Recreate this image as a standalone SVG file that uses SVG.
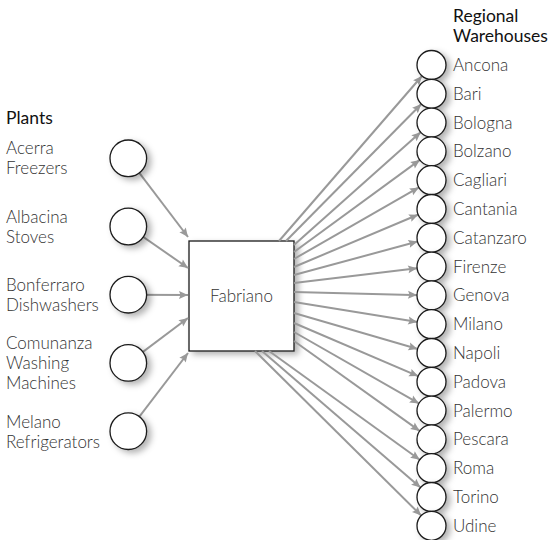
<svg xmlns="http://www.w3.org/2000/svg" width="553" height="540" viewBox="0 0 553 540">
  <defs>
    <filter id="shadow" x="-50%" y="-50%" width="200%" height="200%">
      <feDropShadow dx="4" dy="3" stdDeviation="3" flood-color="#000" flood-opacity="0.3"/>
    </filter>
    <marker id="tip" markerUnits="userSpaceOnUse" markerWidth="12" markerHeight="12" refX="9" refY="0" orient="auto" overflow="visible">
      <path d="M0,-4 L9,0 L0,4 L1.5,0 z" fill="#999"/>
    </marker>
    <marker id="tipR" markerUnits="userSpaceOnUse" markerWidth="12" markerHeight="12" refX="23.5" refY="0" orient="auto" overflow="visible">
      <path d="M0,-4 L9,0 L0,4 L1.5,0 z" fill="#999"/>
    </marker>
  </defs>
  <style>
    text { font-family: "Lato", "Liberation Sans", sans-serif; font-size: 17px; font-weight: 300; fill: #333; }
    .head { font-size: 17.5px; font-weight: 400; fill: #111; }
    .node { fill: #fff; stroke: #1a1a1a; stroke-width: 1.3; filter: url(#shadow); }
    .edge { stroke: #999; stroke-width: 2; fill: none; }
    .in { marker-end: url(#tip); }
    .out { marker-end: url(#tipR); }
  </style>

  <rect width="553" height="540" fill="#fff"/>

  <!-- column headings -->
  <text class="head" x="6" y="124">Plants</text>
  <text class="head" x="453" y="22">Regional</text>
  <text class="head" x="453" y="41.5">Warehouses</text>

  <!-- central plant -->
  <g id="fabriano">
    <rect class="node" x="189" y="241" width="105" height="110"/>
    <text x="241.5" y="302" text-anchor="middle">Fabriano</text>
  </g>

  <!-- connectors -->
  <g id="connectors">
    <line class="edge in" x1="128.3" y1="158.3" x2="188" y2="237"/>
    <line class="edge in" x1="128.3" y1="226.5" x2="188" y2="268"/>
    <line class="edge in" x1="128.3" y1="294.7" x2="188" y2="295"/>
    <line class="edge in" x1="128.3" y1="362.9" x2="188" y2="318"/>
    <line class="edge in" x1="128.3" y1="431.2" x2="188" y2="353"/>

    <line class="edge out" x1="279" y1="241" x2="431.5" y2="65"/>
    <line class="edge out" x1="286" y1="241" x2="431.5" y2="93.8"/>
    <line class="edge out" x1="294" y1="245" x2="431.5" y2="122.6"/>
    <line class="edge out" x1="294" y1="252" x2="431.5" y2="151.4"/>
    <line class="edge out" x1="294" y1="259" x2="431.5" y2="180.2"/>
    <line class="edge out" x1="294" y1="267" x2="431.5" y2="209"/>
    <line class="edge out" x1="294" y1="275" x2="431.5" y2="237.8"/>
    <line class="edge out" x1="294" y1="283" x2="431.5" y2="266.6"/>
    <line class="edge out" x1="294" y1="292" x2="431.5" y2="295.4"/>
    <line class="edge out" x1="294" y1="302" x2="431.5" y2="324.2"/>
    <line class="edge out" x1="294" y1="313" x2="431.5" y2="353"/>
    <line class="edge out" x1="294" y1="323" x2="431.5" y2="381.8"/>
    <line class="edge out" x1="294" y1="332" x2="431.5" y2="410.6"/>
    <line class="edge out" x1="294" y1="341" x2="431.5" y2="439.4"/>
    <line class="edge out" x1="269" y1="351" x2="431.5" y2="468.2"/>
    <line class="edge out" x1="262" y1="351" x2="431.5" y2="497"/>
    <line class="edge out" x1="255" y1="351" x2="431.5" y2="525.8"/>
  </g>

  <!-- plants -->
  <g id="acerra">
    <circle class="node" cx="128.3" cy="158.3" r="18.3"/>
    <text x="6" y="154.3">Acerra</text>
    <text x="6" y="174.3">Freezers</text>
  </g>
  <g id="albacina">
    <circle class="node" cx="128.3" cy="226.5" r="18.3"/>
    <text x="6" y="222.5">Albacina</text>
    <text x="6" y="242.5">Stoves</text>
  </g>
  <g id="bonferraro">
    <circle class="node" cx="128.3" cy="294.7" r="18.3"/>
    <text x="6" y="290.7">Bonferraro</text>
    <text x="6" y="310.7">Dishwashers</text>
  </g>
  <g id="comunanza">
    <circle class="node" cx="128.3" cy="362.9" r="18.3"/>
    <text x="6" y="348.9">Comunanza</text>
    <text x="6" y="368.9">Washing</text>
    <text x="6" y="388.9">Machines</text>
  </g>
  <g id="melano">
    <circle class="node" cx="128.3" cy="431.2" r="18.3"/>
    <text x="6" y="428.2">Melano</text>
    <text x="6" y="448.2">Refrigerators</text>
  </g>

  <!-- regional warehouses -->
  <g id="ancona"><circle class="node" cx="431.5" cy="65" r="14.5"/><text x="453" y="71">Ancona</text></g>
  <g id="bari"><circle class="node" cx="431.5" cy="93.8" r="14.5"/><text x="453" y="99.8">Bari</text></g>
  <g id="bologna"><circle class="node" cx="431.5" cy="122.6" r="14.5"/><text x="453" y="128.6">Bologna</text></g>
  <g id="bolzano"><circle class="node" cx="431.5" cy="151.4" r="14.5"/><text x="453" y="157.4">Bolzano</text></g>
  <g id="cagliari"><circle class="node" cx="431.5" cy="180.2" r="14.5"/><text x="453" y="186.2">Cagliari</text></g>
  <g id="cantania"><circle class="node" cx="431.5" cy="209" r="14.5"/><text x="453" y="215">Cantania</text></g>
  <g id="catanzaro"><circle class="node" cx="431.5" cy="237.8" r="14.5"/><text x="453" y="243.8">Catanzaro</text></g>
  <g id="firenze"><circle class="node" cx="431.5" cy="266.6" r="14.5"/><text x="453" y="272.6">Firenze</text></g>
  <g id="genova"><circle class="node" cx="431.5" cy="295.4" r="14.5"/><text x="453" y="301.4">Genova</text></g>
  <g id="milano"><circle class="node" cx="431.5" cy="324.2" r="14.5"/><text x="453" y="330.2">Milano</text></g>
  <g id="napoli"><circle class="node" cx="431.5" cy="353" r="14.5"/><text x="453" y="359">Napoli</text></g>
  <g id="padova"><circle class="node" cx="431.5" cy="381.8" r="14.5"/><text x="453" y="387.8">Padova</text></g>
  <g id="palermo"><circle class="node" cx="431.5" cy="410.6" r="14.5"/><text x="453" y="416.6">Palermo</text></g>
  <g id="pescara"><circle class="node" cx="431.5" cy="439.4" r="14.5"/><text x="453" y="445.4">Pescara</text></g>
  <g id="roma"><circle class="node" cx="431.5" cy="468.2" r="14.5"/><text x="453" y="474.2">Roma</text></g>
  <g id="torino"><circle class="node" cx="431.5" cy="497" r="14.5"/><text x="453" y="503">Torino</text></g>
  <g id="udine"><circle class="node" cx="431.5" cy="525.8" r="14.5"/><text x="453" y="531.8">Udine</text></g>
</svg>
